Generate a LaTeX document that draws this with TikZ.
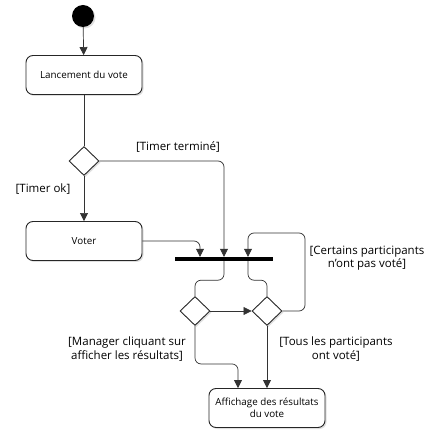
\documentclass[tikz,border=0pt]{standalone}
\usepackage{fontspec}
\setmainfont{Open Sans}
\usepackage{tikz}
\usetikzlibrary{arrows.meta, positioning, shapes.geometric, shadows, calc}

\tikzset{
  activity/.style={draw=black!85, fill=white, rounded corners=7pt, line width=0.9pt,
    minimum width=116pt, minimum height=39pt, align=center,
    font=\fontsize{9.8}{12}\selectfont,
    drop shadow={opacity=0.25, shadow xshift=1.5pt, shadow yshift=-1.5pt}},
  decision/.style={diamond, draw=black!85, fill=white, line width=0.9pt,
    minimum width=30pt, minimum height=29pt, inner sep=0pt,
    drop shadow={opacity=0.25, shadow xshift=1.5pt, shadow yshift=-1.5pt}},
  guard/.style={align=center, font=\fontsize{11.5}{13.5}\selectfont},
  flow/.style={draw=black!80, line width=0.7pt, rounded corners=6pt},
  flowto/.style={flow, -{Triangle[width=8pt,length=8pt]}}
}

\begin{document}
\begin{tikzpicture}[x=1pt, y=-1pt]
    \useasboundingbox[fill=white] (0,0) rectangle (439,438);
    % --- Nodes ---
    \node[circle, fill=black, minimum size=22pt, inner sep=0pt,
      drop shadow={opacity=0.25, shadow xshift=1.5pt, shadow yshift=-1.5pt}]
      (start) at (83,16) {};
    \node[activity] (lancement) at (84,75) {Lancement du vote};
    \node[decision] (timer) at (84,161) {};
    \node[activity] (voter) at (84,241) {Voter};
    \node[fill=black, minimum width=98pt, minimum height=4pt, inner sep=0pt]
      (bar) at (224,259) {};
    \node[decision] (manager) at (195,311) {};
    \node[decision] (tous) at (267,311) {};
    \node[activity] (affichage) at (267,408) {Affichage des résultats\\du vote};
    % --- Coordinates ---
    \coordinate (barinL) at ($(bar.north)+(-24,0)$);
    \coordinate (barinR) at ($(bar.north)+(24,0)$);
    \coordinate (baroutR) at ($(bar.south)+(24,0)$);
    \coordinate (loop) at (305,233);
    \coordinate (affin) at ($(affichage.north)+(-29,0)$);
    % --- Flows ---
    \draw[flowto] (start) -- (lancement);
    \draw[flow] (lancement) -- (timer);
    \draw[flowto] (timer) -- (voter);
    \draw[flowto] (timer.east) -| (bar.north);
    \draw[flowto] (voter.east) -| (barinL);
    \draw[flowto] (tous.east) -| (loop) -| (barinR);
    \draw[flow] (bar.south) -- ++(0,19) -| (manager.north);
    \draw[flow] (baroutR) -- ++(0,19) -| (tous.north);
    \draw[flowto] (manager.east) -- (tous.west);
    \draw[flowto] (manager.south) -- ++(0,38) -| (affin);
    \draw[flowto] (tous.south) -- (affichage.north);
    % --- Guards ---
    \node[guard] at (178,147) {[Timer terminé]};
    \node[guard] at (43,189) {[Timer ok]};
    \node[guard] at (367,258) {[Certains participants\\n'ont pas voté]};
    \node[guard] at (127,349) {[Manager cliquant sur\\afficher les résultats]};
    \node[guard] at (336,349) {[Tous les participants\\ont voté]};
  \end{tikzpicture}
\end{document}
